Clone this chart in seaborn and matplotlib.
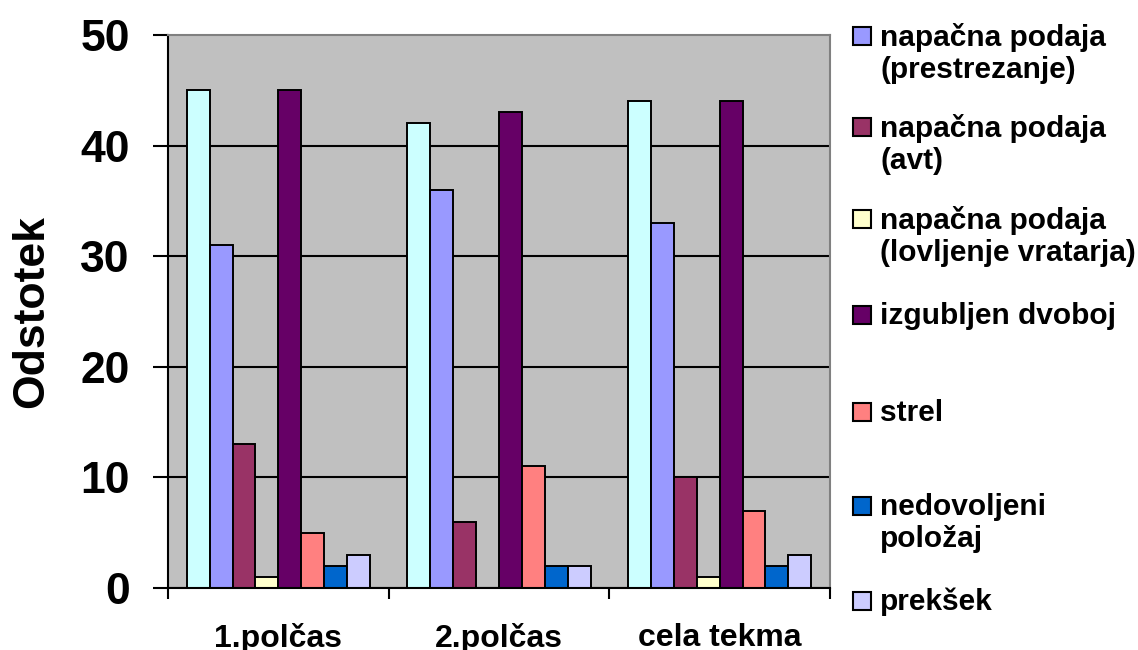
import matplotlib
matplotlib.use('Agg')
import matplotlib.pyplot as plt
import matplotlib.patches as mpatches
import pandas as pd
import seaborn as sns

# podatki (odstotki po delih tekme)
categories = ['1.polčas', '2.polčas', 'cela tekma']
series = ['napačna podaja (skupaj)',
          'napačna podaja\n(prestrezanje)',
          'napačna podaja\n(avt)',
          'napačna podaja\n(lovljenje vratarja)',
          'izgubljen dvoboj',
          'strel',
          'nedovoljeni\npoložaj',
          'prekšek']
napacna_skupaj = [45, 42, 44]
prestrezanje = [31, 36, 33]
avt = [13, 6, 10]
lovljenje_vratarja = [1, 0, 1]
izgubljen_dvoboj = [45, 43, 44]
strel = [5, 11, 7]
nedovoljeni_polozaj = [2, 2, 2]
preksek = [3, 2, 3]
y_ticks = [0, 10, 20, 30, 40, 50]

colors = ['#CCFFFF', '#9999FF', '#993366', '#FFFFCC',
          '#660066', '#FF8080', '#0066CC', '#CCCCFF']

values = [napacna_skupaj, prestrezanje, avt, lovljenje_vratarja,
          izgubljen_dvoboj, strel, nedovoljeni_polozaj, preksek]
rows = []
for name, vals in zip(series, values):
    for cat, v in zip(categories, vals):
        rows.append({'del': cat, 'odstotek': v, 'vrsta': name})
df = pd.DataFrame(rows)

sns.set_theme(style='white')
plt.rcParams['font.family'] = ['Liberation Sans', 'DejaVu Sans']
plt.rcParams['font.weight'] = 'bold'
plt.rcParams['text.color'] = 'black'
plt.rcParams['axes.labelcolor'] = 'black'
plt.rcParams['xtick.color'] = 'black'
plt.rcParams['ytick.color'] = 'black'

fig = plt.figure(figsize=(11.38, 6.5), dpi=100)
W, H = 1138, 650
ax = fig.add_axes([168 / W, 1 - 588 / H, (830 - 168) / W, (588 - 35) / H])
ax.set_facecolor('#C0C0C0')

sns.barplot(data=df, x='del', y='odstotek', hue='vrsta', hue_order=series,
            palette=colors, saturation=1, width=0.83, edgecolor='black',
            linewidth=1.4, legend=False, ax=ax)

ax.set_xlim(-0.5, 2.5)
ax.set_ylim(0, 50)
ax.set_yticks(y_ticks)
ax.yaxis.grid(True, color='black', linewidth=1.5)
ax.xaxis.grid(False)
ax.set_axisbelow(True)
ax.get_ygridlines()[-1].set_visible(False)

# osi
for s in ['left', 'bottom']:
    ax.spines[s].set_color('black')
    ax.spines[s].set_linewidth(1.5)
for s in ['top', 'right']:
    ax.spines[s].set_color('#808080')
    ax.spines[s].set_linewidth(1.5)

ax.tick_params(axis='y', left=True, direction='out', length=11, width=1.5,
               color='black', labelcolor='black', pad=16.5, labelsize=32)
ax.tick_params(axis='x', which='major', bottom=True, length=0, pad=25,
               labelsize=23, labelcolor='black')
ax.set_xticks([-0.5, 0.5, 1.5, 2.5], minor=True)
ax.tick_params(axis='x', which='minor', bottom=True, direction='out',
               length=8, width=1.5, color='black')
for lab in ax.get_xticklabels() + ax.get_yticklabels():
    lab.set_fontweight('bold')

ax.set_xlabel('')
ax.set_ylabel('Odstotek', fontsize=32, fontweight='bold', color='black')
ax.yaxis.set_label_coords(-0.175, 0.5)

# legenda (brez prve serije)
legend_y = [36.7, 128, 220, 316, 413, 507, 602]
for name, col, yc in zip(series[1:], colors[1:], legend_y):
    fig.add_artist(mpatches.Rectangle((853 / W, 1 - (yc + 8) / H), 18 / W, 18 / H,
                                      transform=fig.transFigure, facecolor=col,
                                      edgecolor='black', linewidth=1.5))
    fig.text(880 / W, 1 - (yc - 14) / H, name, fontsize=21.5, fontweight='bold',
             color='black', va='top', ha='left', linespacing=1.2)

fig.savefig('out.png', dpi=100)
